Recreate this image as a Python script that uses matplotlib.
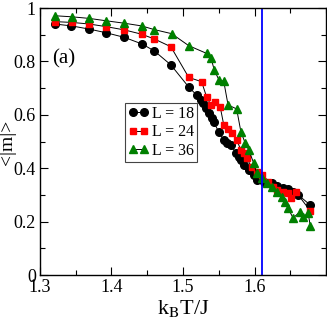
import matplotlib
matplotlib.use("Agg")
import matplotlib.pyplot as plt
from matplotlib.ticker import MultipleLocator

plt.rcParams['font.family'] = ['Liberation Serif', 'DejaVu Serif']
plt.rcParams['mathtext.fontset'] = 'stix'

T18 = [1.321, 1.344, 1.369, 1.393, 1.418, 1.443, 1.460, 1.483, 1.508, 1.519,
       1.525, 1.528, 1.532, 1.536, 1.540, 1.543, 1.550, 1.557, 1.561, 1.567,
       1.574, 1.578, 1.581, 1.585, 1.592, 1.599, 1.603, 1.613, 1.624, 1.631,
       1.640, 1.647, 1.654, 1.661, 1.678]
M18 = [0.940, 0.933, 0.921, 0.907, 0.890, 0.865, 0.839, 0.787, 0.704, 0.674,
       0.655, 0.644, 0.625, 0.607, 0.588, 0.573, 0.536, 0.506, 0.494, 0.487,
       0.457, 0.442, 0.431, 0.412, 0.393, 0.375, 0.356, 0.348, 0.345, 0.333,
       0.326, 0.322, 0.311, 0.300, 0.262]

T24 = [1.321, 1.345, 1.369, 1.393, 1.418, 1.442, 1.460, 1.483, 1.508, 1.526,
       1.533, 1.539, 1.545, 1.552, 1.557, 1.563, 1.568, 1.575, 1.581, 1.585,
       1.589, 1.596, 1.603, 1.611, 1.619, 1.626, 1.631, 1.640, 1.647, 1.651,
       1.658, 1.678]
M24 = [0.949, 0.946, 0.940, 0.930, 0.918, 0.902, 0.884, 0.855, 0.740, 0.724,
       0.667, 0.637, 0.649, 0.630, 0.562, 0.547, 0.532, 0.506, 0.468, 0.457,
       0.438, 0.404, 0.386, 0.375, 0.348, 0.330, 0.318, 0.311, 0.307, 0.288,
       0.311, 0.240]

T36 = [1.321, 1.345, 1.369, 1.393, 1.418, 1.442, 1.460, 1.484, 1.508, 1.533,
       1.539, 1.544, 1.550, 1.557, 1.563, 1.575, 1.581, 1.587, 1.592, 1.599,
       1.603, 1.610, 1.617, 1.624, 1.631, 1.638, 1.643, 1.647, 1.654, 1.663,
       1.668, 1.675, 1.678]
M36 = [0.971, 0.967, 0.961, 0.952, 0.943, 0.933, 0.919, 0.904, 0.859, 0.830,
       0.813, 0.766, 0.732, 0.725, 0.637, 0.622, 0.536, 0.494, 0.468, 0.418,
       0.381, 0.362, 0.343, 0.331, 0.312, 0.293, 0.275, 0.250, 0.213, 0.236,
       0.217, 0.232, 0.184]

Tc = 1.61

fig = plt.figure(figsize=(3.27, 3.27), dpi=100)
ax = fig.add_axes([0.1223, 0.159, 0.8747, 0.8165])

ax.plot(T18, M18, '-', color='black', lw=0.7, marker='o', ms=5.5,
        mfc='black', mec='black', label='L = 18')
ax.plot(T24, M24, '-', color='black', lw=0.7, marker='s', ms=5.0,
        mfc='red', mec='red', label='L = 24')
ax.plot(T36, M36, '-', color='black', lw=0.7, marker='^', ms=6.0,
        mfc='#008000', mec='#008000', label='L = 36')
ax.axvline(Tc, color='#0000ff', lw=1.3)

ax.set_xlim(1.3, 1.7)
ax.set_ylim(0, 1)
ax.xaxis.set_minor_locator(MultipleLocator(0.05))
ax.yaxis.set_minor_locator(MultipleLocator(0.1))
ax.set_xticks([1.3, 1.4, 1.5, 1.6])
ax.set_xticklabels(['1.3', '1.4', '1.5', '1.6'])
ax.set_yticks([0, 0.2, 0.4, 0.6, 0.8, 1.0])
ax.set_yticklabels(['0', '0.2', '0.4', '0.6', '0.8', '1'])
ax.tick_params(which='both', direction='in', top=True, right=True,
               labelsize=13, pad=3, width=0.8)
ax.tick_params(which='major', length=6)
ax.tick_params(which='minor', length=3.5)
for s in ax.spines.values():
    s.set_linewidth(1.0)

ax.set_xlabel(r'k$_{\mathrm{B}}$T/J', fontsize=16, labelpad=1)
fig.text(7.5 / 327, 1 - 142 / 327, '<|m|>', fontsize=14, rotation=90,
         ha='center', va='center')

ax.text(1.3326, 0.811, '(a)', fontsize=15, ha='center', va='center')

leg = ax.legend(loc='upper left', bbox_to_anchor=(0.297, 0.645), numpoints=2,
                fontsize=11.5, frameon=True, fancybox=False, framealpha=1,
                edgecolor='#444444', handlelength=1.3, handletextpad=0.2,
                borderpad=0.2, labelspacing=0.15, borderaxespad=0)
leg.get_frame().set_linewidth(0.8)

fig.savefig('out.png', dpi=100)
